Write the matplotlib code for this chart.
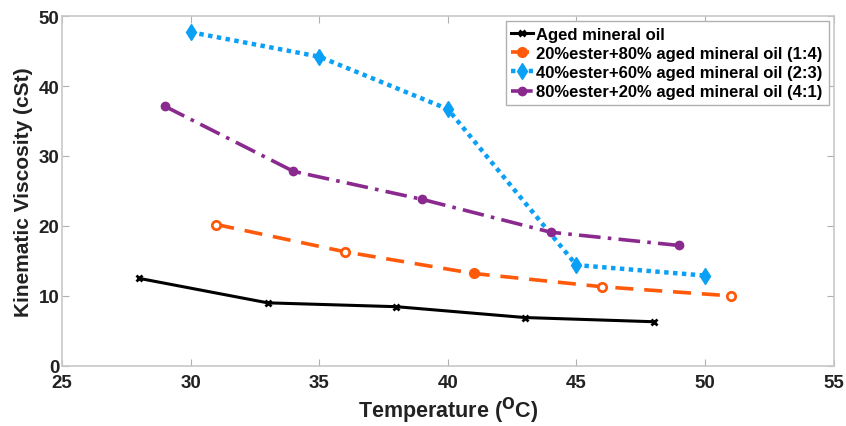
import matplotlib
matplotlib.use("Agg")
import matplotlib.pyplot as plt

# ---------------------------------------------------------------------------
# Data
# ---------------------------------------------------------------------------
temp_aged = [28, 33, 38, 43, 48]
visc_aged = [12.5, 9.0, 8.45, 6.9, 6.3]

temp_14 = [31, 36, 41, 46, 51]
visc_14 = [20.2, 16.3, 13.2, 11.3, 10.0]
open_14 = [True, True, False, True, True]   # hollow markers in the original

temp_23 = [30, 35, 40, 45, 50]
visc_23 = [47.7, 44.2, 36.7, 14.4, 12.9]

temp_41 = [29, 34, 39, 44, 49]
visc_41 = [37.1, 27.8, 23.8, 19.1, 17.2]

labels = [
    "Aged mineral oil",
    "20%ester+80% aged mineral oil (1:4)",
    "40%ester+60% aged mineral oil (2:3)",
    "80%ester+20% aged mineral oil (4:1)",
]

plt.rcParams["font.family"] = ["Liberation Sans", "DejaVu Sans"]
plt.rcParams["font.weight"] = "bold"

fig = plt.figure(figsize=(8.46, 4.27), dpi=100)
ax = fig.add_axes([0.0733, 0.141, 0.912, 0.819])

ax.plot(temp_aged, visc_aged, color="black", linestyle="-", linewidth=2.2,
        marker="x", markersize=4, markeredgewidth=2, label=labels[0])

ax.plot(temp_14, visc_14, color="#ff5a0a", linestyle=(0, (5, 3)), linewidth=2.6,
        marker="o", markersize=7, label=labels[1])
ax.scatter([t for t, o in zip(temp_14, open_14) if o],
           [v for v, o in zip(visc_14, open_14) if o],
           s=9, color="white", zorder=5)

ax.plot(temp_23, visc_23, color="#0aa0f5", linestyle=(0, (1, 1)), linewidth=3.2,
        marker="d", markersize=8, label=labels[2])

ax.plot(temp_41, visc_41, color="#8b2a8e", linestyle=(0, (6, 2, 1, 2)), linewidth=2.6,
        marker="o", markersize=6, label=labels[3])

ax.set_xlim(25, 55)
ax.set_ylim(0, 50)
ax.set_xticks(range(25, 56, 5))
ax.set_yticks(range(0, 51, 10))

for s in ax.spines.values():
    s.set_color("#c8c8c8")
    s.set_linewidth(1.2)
ax.tick_params(direction="in", length=5, color="#b0b0b0", top=True, right=True,
               labelsize=13.5, labelcolor="#222222")
ax.tick_params(axis="x", pad=6)
ax.tick_params(axis="y", pad=2)
for lab in ax.get_xticklabels() + ax.get_yticklabels():
    lab.set_fontweight("bold")

ax.set_xlabel("Temperature ($\\mathbf{^{O}}$C)", fontsize=15.5, fontweight="bold",
              color="#222222", labelpad=3)
ax.set_ylabel("Kinematic Viscosity (cSt)", fontsize=15, fontweight="bold",
              color="#222222", labelpad=4)

leg = ax.legend(loc="upper right", fontsize=12, handlelength=1.3,
                handletextpad=0.2, borderpad=0.35, labelspacing=0.25,
                fancybox=False, framealpha=1, borderaxespad=0.3)
leg.get_frame().set_edgecolor("#b0b0b0")
leg.get_frame().set_linewidth(1.0)
for t in leg.get_texts():
    t.set_fontweight("bold")

fig.savefig("out.png", dpi=100)
